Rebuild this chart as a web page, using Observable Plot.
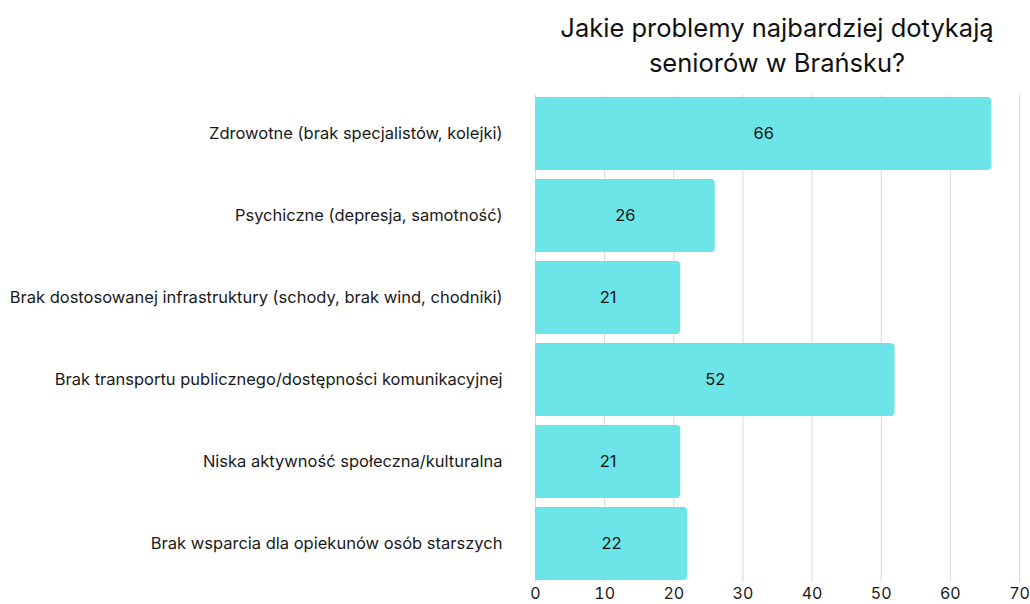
<!DOCTYPE html>
<html>
<head>
<meta charset="utf-8">
<script src="https://cdn.jsdelivr.net/npm/d3@7"></script>
<script src="https://cdn.jsdelivr.net/npm/@observablehq/plot@0.6"></script>
<style>
  body { margin: 0; background: #fff; font-family: Inter, "Noto Sans", sans-serif; }
  #wrap { position: relative; width: 1030px; }
  #title { height: 92px; box-sizing: border-box; padding-left: 535px; padding-top: 10px; width: 1030px; overflow: hidden; }
  #title div { width: 484px; text-align: center; font-size: 25.5px; line-height: 35px; color: #111; }
  #chart svg { display: block; }
</style>
</head>
<body>
<div id="wrap">
  <div id="title"><div>Jakie problemy najbardziej dotykają<br>seniorów w Brańsku?</div></div>
  <div id="chart"></div>
</div>
<script>
const categories = [
  "Zdrowotne (brak specjalistów, kolejki)",
  "Psychiczne (depresja, samotność)",
  "Brak dostosowanej infrastruktury (schody, brak wind, chodniki)",
  "Brak transportu publicznego/dostępności komunikacyjnej",
  "Niska aktywność społeczna/kulturalna",
  "Brak wsparcia dla opiekunów osób starszych"
];
const values = [66, 26, 21, 52, 21, 22];
const xTicks = [0, 10, 20, 30, 40, 50, 60, 70];

const data = categories.map((c, i) => ({category: c, value: values[i]}));

const chart = Plot.plot({
  width: 1030,
  height: 510,
  marginLeft: 535,
  marginRight: 11,
  marginTop: 3,
  marginBottom: 20,
  style: {fontFamily: "Inter, 'Noto Sans', sans-serif", fontSize: "16px", color: "#1a1a1a"},
  x: {domain: [0, 70], ticks: xTicks, label: null},
  y: {domain: categories, label: null, paddingInner: 0.11, paddingOuter: 0.02},
  marks: [
    Plot.gridX(xTicks, {stroke: "#d9d9d9", strokeOpacity: 1, strokeWidth: 1}),
    Plot.barX(data, {x: "value", y: "category", fill: "#6ce5e8", rx2: 4}),
    Plot.text(data, {x: d => d.value / 2, y: "category", text: d => String(d.value), fontSize: 16.5, fill: "#111"}),
    Plot.axisX({ticks: xTicks, tickSize: 0, tickPadding: 5, fontSize: 16, label: null}),
    Plot.axisY({tickSize: 0, tickPadding: 33, fontSize: 16.5, label: null})
  ]
});
document.getElementById("chart").appendChild(chart);
</script>
</body>
</html>
